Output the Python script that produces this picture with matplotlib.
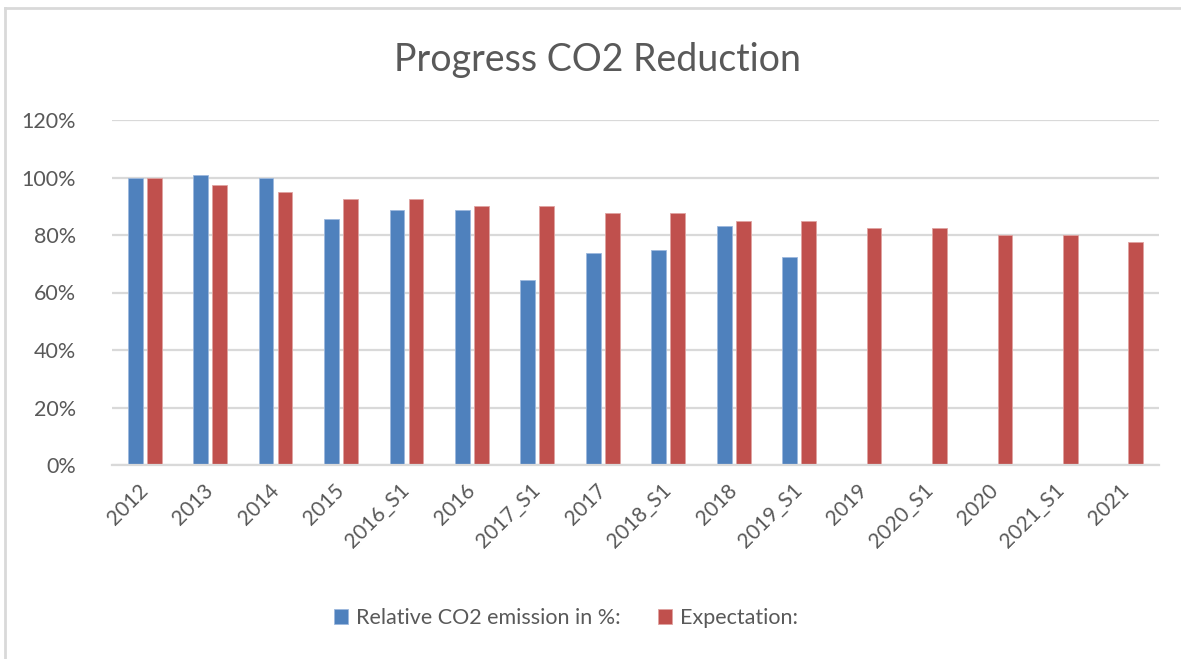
import numpy as np
import matplotlib
matplotlib.use('Agg')
from matplotlib import pyplot as plt
from matplotlib.lines import Line2D
from matplotlib.ticker import FuncFormatter

categories = ['2012', '2013', '2014', '2015', '2016_S1', '2016', '2017_S1', '2017',
              '2018_S1', '2018', '2019_S1', '2019', '2020_S1', '2020', '2021_S1', '2021']
relative_emission = [1.00, 1.01, 1.00, 0.857, 0.887, 0.887, 0.643, 0.738,
                     0.749, 0.830, 0.723, np.nan, np.nan, np.nan, np.nan, np.nan]
expectation = [1.00, 0.975, 0.95, 0.925, 0.925, 0.90, 0.90, 0.875,
               0.875, 0.85, 0.85, 0.825, 0.825, 0.80, 0.80, 0.775]
y_ticks = [0.0, 0.2, 0.4, 0.6, 0.8, 1.0, 1.2]

plt.rcParams['font.family'] = ['Lato', 'DejaVu Sans']
text_color = '#595959'
grid_color = '#d9d9d9'
blue = '#4f81bd'
red = '#c0504d'

fig = plt.figure(figsize=(11.81, 6.59), dpi=100)
ax = fig.add_axes([112 / 1181, 1 - 465 / 659, (1159 - 112) / 1181, (465 - 120) / 659])

x = np.arange(len(categories))
width = 0.225
offset = 0.145
ax.bar(x - offset, relative_emission, width, color=blue, edgecolor='#9db9dd', linewidth=0.6,
       label='Relative CO2 emission in %:', zorder=3)
ax.bar(x + offset, expectation, width, color=red, edgecolor='#e0a3a1', linewidth=0.6,
       label='Expectation:', zorder=3)

ax.set_xlim(-0.5, len(categories) - 0.5)
ax.set_ylim(0, 1.2)
ax.set_yticks(y_ticks)
ax.yaxis.set_major_formatter(FuncFormatter(lambda v, p: '{:.0f}%'.format(v * 100)))
ax.grid(axis='y', color=grid_color, linewidth=1.6, zorder=0)
ax.set_axisbelow(True)
for side in ['top', 'right', 'left']:
    ax.spines[side].set_visible(False)
ax.spines['bottom'].set_color(grid_color)
ax.spines['bottom'].set_linewidth(1.6)
ax.spines['bottom'].set_zorder(4)

ax.set_xticks(x)
ax.set_xticklabels(categories, rotation=45, ha='right', va='center', rotation_mode='anchor')
ax.tick_params(axis='x', length=0, pad=16, labelsize=15, labelcolor=text_color)
ax.tick_params(axis='y', length=0, pad=26, labelsize=15.5, labelcolor=text_color)

fig.text(598 / 1181, 1 - 60 / 659, 'Progress CO2 Reduction', ha='center', va='center',
         fontsize=27, color=text_color)

handles, labels = ax.get_legend_handles_labels()
fig.legend(handles, labels, loc='center', bbox_to_anchor=(566 / 1181, 1 - 618 / 659), ncol=2,
           frameon=False, fontsize=15.5, labelcolor=text_color, handlelength=0.65, handleheight=0.65,
           handletextpad=0.35, columnspacing=1.75)

fig.add_artist(Line2D([5 / 1181, 5 / 1181], [0, 1 - 8 / 659], color='#d9d9d9', linewidth=2,
                      transform=fig.transFigure))
fig.add_artist(Line2D([5 / 1181, 1], [1 - 8 / 659, 1 - 8 / 659], color='#d9d9d9', linewidth=2,
                      transform=fig.transFigure))

fig.savefig('out.png', dpi=100)
plt.close(fig)
